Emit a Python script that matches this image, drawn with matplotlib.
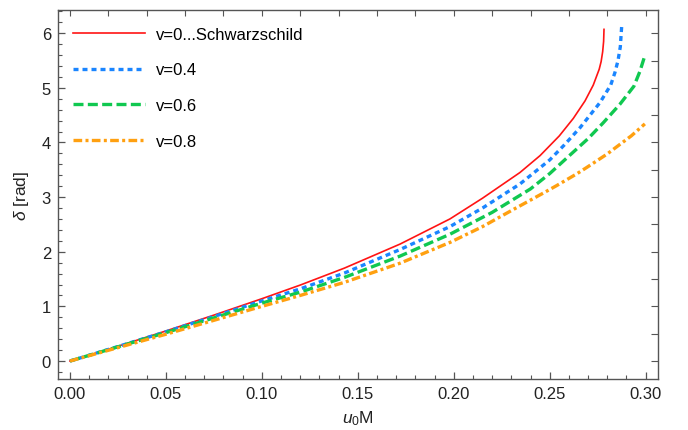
import numpy as np
import matplotlib
matplotlib.use("Agg")
from matplotlib import pyplot as plt
from matplotlib.ticker import MultipleLocator

# curve data (u0*M , delta in rad)
x_v0 = [0, 0.025, 0.05, 0.075, 0.10, 0.12, 0.143, 0.172, 0.198, 0.215, 0.2345,
        0.245, 0.255, 0.2623, 0.2684, 0.2727, 0.2758, 0.2768, 0.2776, 0.2781, 0.2783]
y_v0 = [0, 0.27, 0.55, 0.84, 1.14, 1.39, 1.70, 2.14, 2.60, 2.98, 3.45,
        3.76, 4.12, 4.44, 4.76, 5.05, 5.34, 5.48, 5.66, 5.85, 6.07]

x_v04 = [0, 0.025, 0.05, 0.075, 0.10, 0.12, 0.143, 0.172, 0.198, 0.215, 0.2345,
         0.25, 0.2575, 0.2658, 0.2692, 0.2762, 0.2818, 0.2840, 0.2856, 0.2868, 0.2875]
y_v04 = [0, 0.265, 0.535, 0.815, 1.10, 1.32, 1.61, 2.04, 2.46, 2.80, 3.24,
         3.68, 3.95, 4.27, 4.42, 4.73, 5.05, 5.28, 5.50, 5.75, 6.12]

x_v06 = [0, 0.025, 0.05, 0.075, 0.10, 0.12, 0.143, 0.172, 0.198, 0.22, 0.24,
         0.25, 0.2606, 0.27, 0.2779, 0.2866, 0.2939, 0.2970, 0.2996]
y_v06 = [0, 0.26, 0.52, 0.79, 1.06, 1.26, 1.53, 1.92, 2.32, 2.72, 3.15,
         3.43, 3.77, 4.07, 4.36, 4.70, 5.03, 5.30, 5.59]

x_v08 = [0, 0.025, 0.05, 0.075, 0.10, 0.12, 0.143, 0.172, 0.198, 0.215, 0.2314,
         0.247, 0.2536, 0.2643, 0.2692, 0.28, 0.2849, 0.2925, 0.2996]
y_v08 = [0, 0.245, 0.49, 0.745, 1.00, 1.20, 1.44, 1.79, 2.17, 2.46, 2.78,
         3.08, 3.21, 3.43, 3.54, 3.79, 3.92, 4.12, 4.34]

labels = ['v=0...Schwarzschild', 'v=0.4', 'v=0.6', 'v=0.8']

plt.rcParams['font.family'] = ['Liberation Sans', 'DejaVu Sans']
plt.rcParams['mathtext.fontset'] = 'custom'
plt.rcParams['mathtext.rm'] = 'Liberation Sans'
plt.rcParams['mathtext.it'] = 'Liberation Sans:italic'

fig = plt.figure(figsize=(6.88, 4.31), dpi=100)
ax = fig.add_axes([0.0843, 0.1176, 0.8717, 0.8576])

ax.plot(x_v0, y_v0, color='#ff1414', lw=1.2, label=labels[0])
ax.plot(x_v04, y_v04, color='#1a85ff', lw=2.4, ls=(0, (1.5, 1.2)), label=labels[1])
ax.plot(x_v06, y_v06, color='#10c850', lw=2.4, ls=(0, (3.0, 1.3)), label=labels[2])
ax.plot(x_v08, y_v08, color='#ffa010', lw=2.4, ls=(0, (2.6, 1.0, 0.9, 1.0)), label=labels[3])

ax.set_xlim(-0.00625, 0.3063)
ax.set_ylim(-0.335, 6.43)

ax.xaxis.set_major_locator(MultipleLocator(0.05))
ax.xaxis.set_minor_locator(MultipleLocator(0.01))
ax.yaxis.set_major_locator(MultipleLocator(1))
ax.yaxis.set_minor_locator(MultipleLocator(0.2))
ax.xaxis.set_major_formatter(matplotlib.ticker.FormatStrFormatter('%.2f'))

frame = '#555555'
for s in ax.spines.values():
    s.set_color(frame)
    s.set_linewidth(1.0)
ax.tick_params(which='both', direction='in', color=frame, labelcolor='#222222',
               labelsize=12, top=False, right=False)
ax.tick_params(which='major', length=5, width=0.9, pad=5)
ax.tick_params(which='minor', length=3, width=0.8)

# unlabeled ticks on the top and right frames
top = ax.secondary_xaxis('top')
top.set_xticks(np.arange(0, 0.301, 0.02))
top.tick_params(direction='in', length=4, width=0.8, color=frame, labeltop=False)
top.spines['top'].set_visible(False)
right = ax.secondary_yaxis('right')
right.set_yticks(np.arange(0, 6.01, 0.5))
right.tick_params(direction='in', length=5, width=0.8, color=frame, labelright=False)
right.spines['right'].set_visible(False)

ax.set_xlabel(r'$u_0$M', fontsize=12.5, color='#222222', labelpad=5)
ax.set_ylabel(r'$\delta$ [rad]', fontsize=12.5, color='#222222', labelpad=8)

ax.legend(loc='upper left', frameon=False, fontsize=12, handlelength=4.3,
          labelspacing=1.25, handletextpad=0.7, bbox_to_anchor=(0.0, 0.995),
          borderaxespad=0.5)

fig.savefig('out.png', dpi=100)
